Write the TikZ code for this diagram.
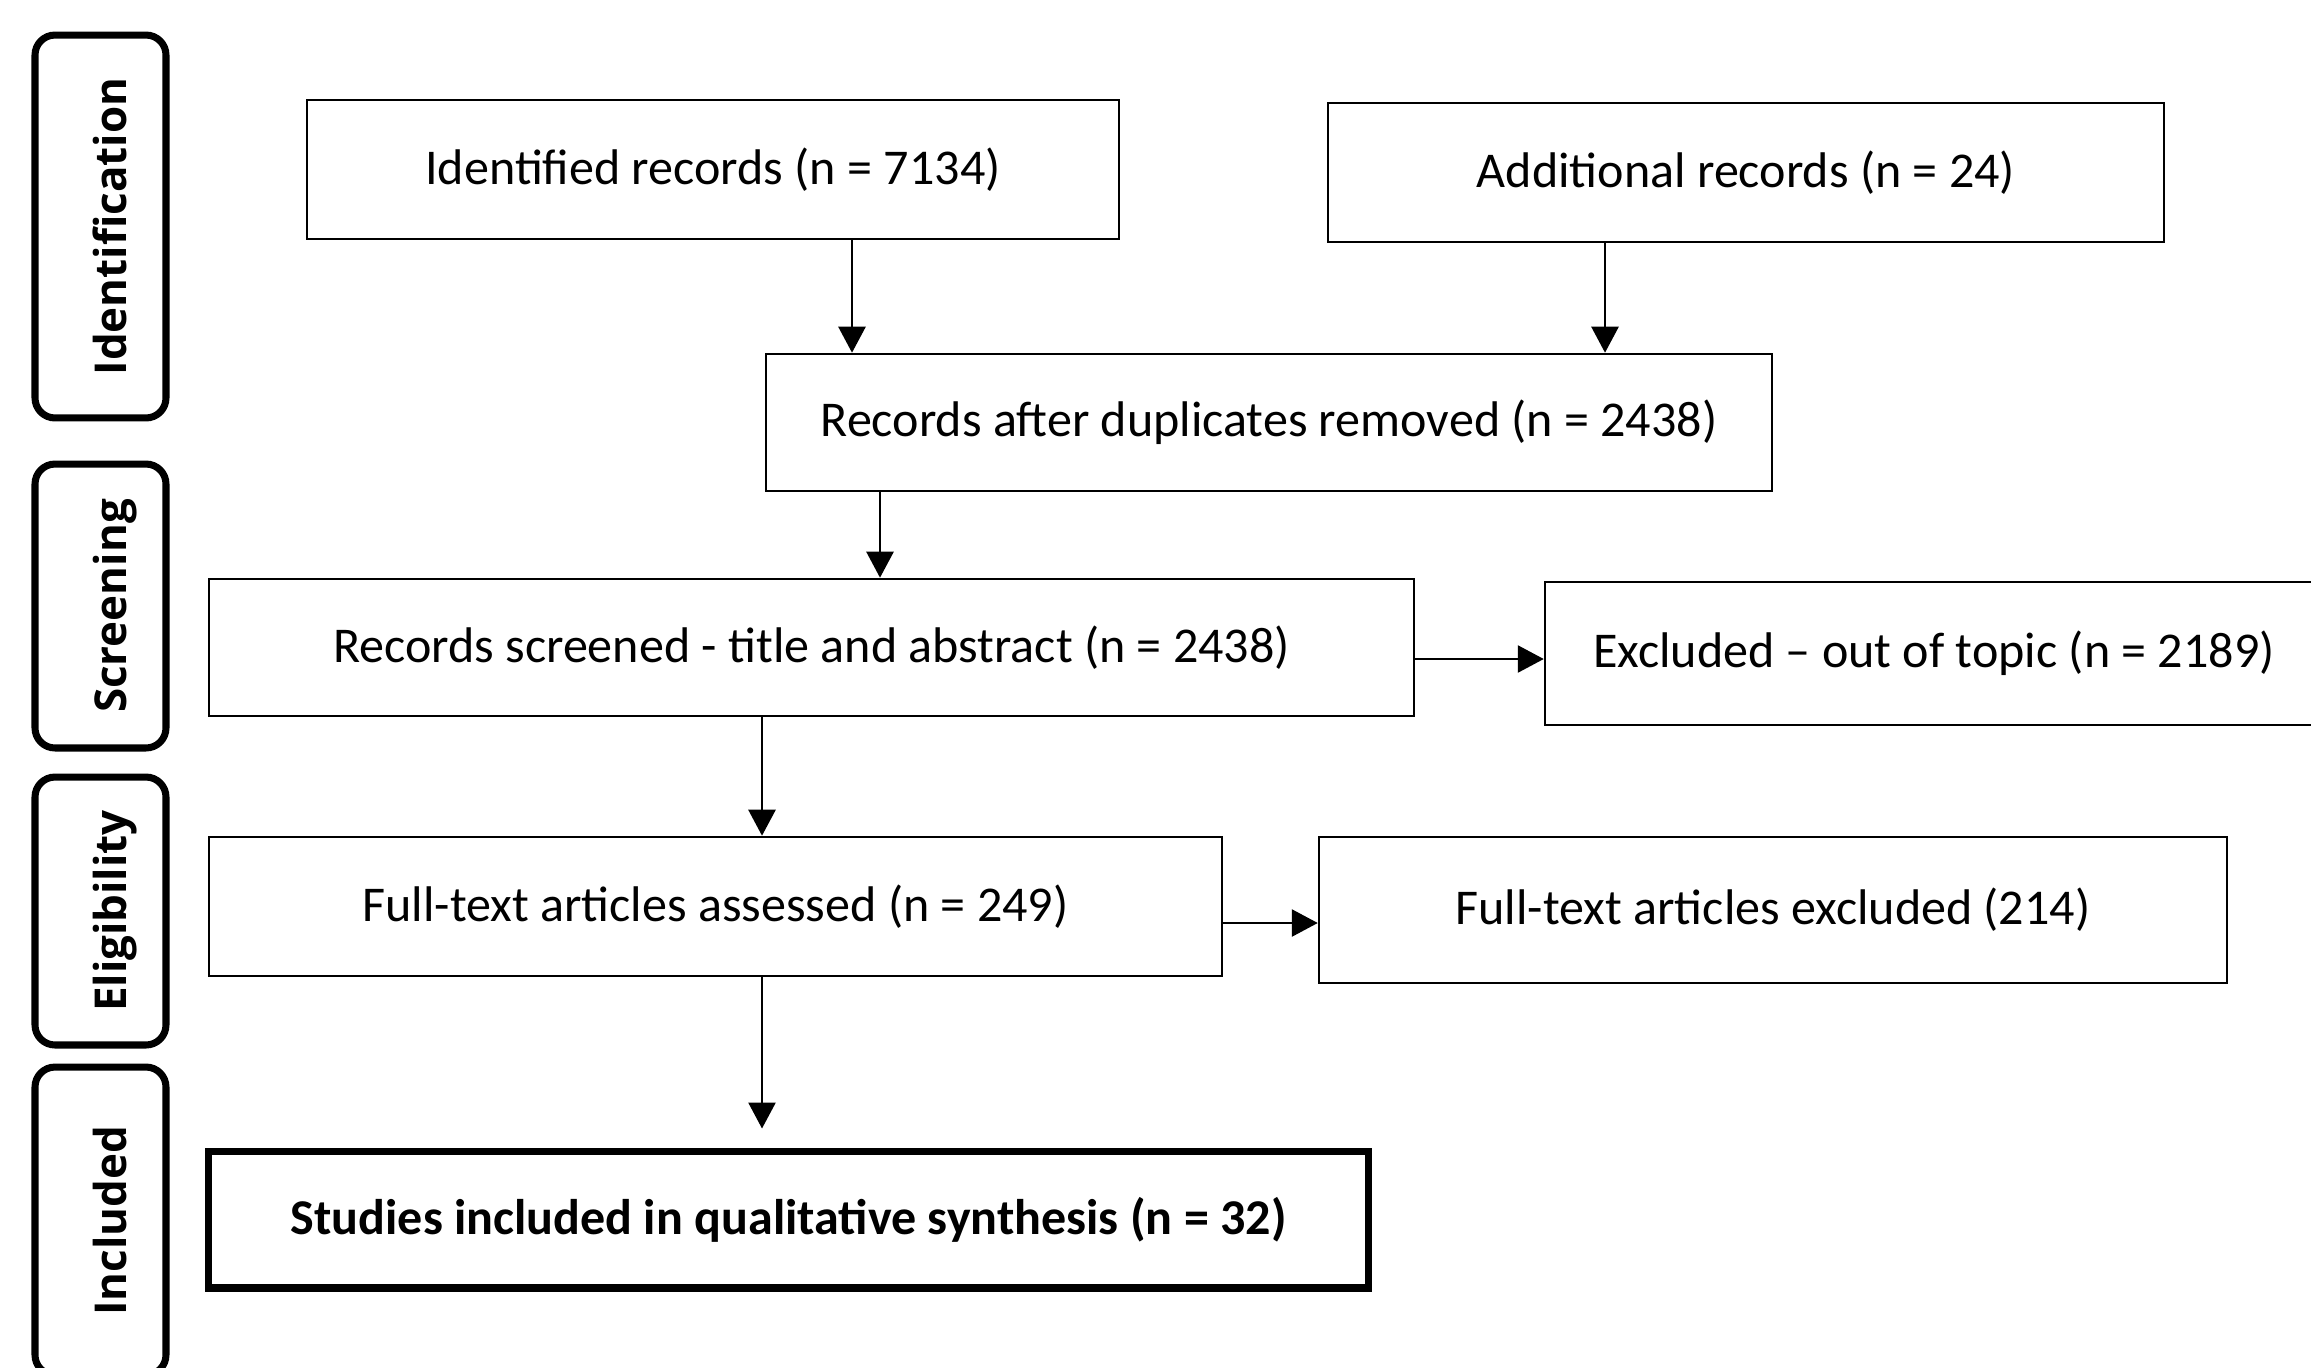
\documentclass[tikz,border=0pt]{standalone}
\usepackage{fontspec}
\setmainfont{Carlito}
\newfontfamily\stagefont{Open Sans}
\usetikzlibrary{positioning}
\usetikzlibrary{arrows.meta}
\newcommand\boxfont{\fontsize{28.5}{32}\selectfont}
\newcommand\stagesize{\fontsize{25}{30}\selectfont}
\tikzset{
    box/.style = {draw, line width=1.5pt, inner sep=0pt, font=\boxfont},
    stage/.style = {draw, line width=4pt, rounded corners=0.4cm, rotate=90, inner sep=0pt,
                    minimum height=2.62cm, text height=30pt, text depth=0pt,
                    font=\stagefont\stagesize\bfseries},
    arr/.style = {->, >={Triangle[width=0.54cm,length=0.52cm]}, line width=1.5pt},
}

\begin{document}
\begin{tikzpicture}[x=0.02cm, y=-0.02cm]
         \useasboundingbox (0,0) rectangle (2311,1367);
         \clip (0,0) rectangle (2311,1367);
         % --- Stages
         \node[stage, minimum width=7.66cm] (sident) at (100.5,226.5) {Identification};
         \node[stage, minimum width=5.68cm] (sscreen) at (100.5,606) {Screening};
         \node[stage, minimum width=5.36cm] (selig) at (100.5,911) {Eligibility};
         \node[stage, minimum width=6.16cm] (sincl) at (100.5,1221) {Included};
         % --- Identification
         \node[box, minimum width=16.24cm, minimum height=2.78cm] (ident) at (713,169.5) {Identified records (n = 7134)};
         \node[box, minimum width=16.72cm, minimum height=2.78cm] (addit) at (1746,172.5) {Additional records (n = 24)};
         \node[box, minimum width=20.12cm, minimum height=2.74cm] (dup) at (1269,422.5) {Records after duplicates removed (n = 2438)};
         % --- Screening
         \node[box, minimum width=24.10cm, minimum height=2.74cm] (screen) at (811.5,647.5) {Records screened - title and abstract (n = 2438)};
         \node[box, minimum width=15.56cm, minimum height=2.86cm] (extopic) at (1934,653.5) {Excluded -- out of topic (n = 2189)};
         % --- Eligibility
         \node[box, minimum width=20.26cm, minimum height=2.78cm] (full) at (715.5,906.5) {Full-text articles assessed (n = 249)};
         \node[box, minimum width=18.16cm, minimum height=2.92cm] (fullex) at (1773,910) {Full-text articles excluded (214)};
         % --- Included
         \node[box, line width=4pt, minimum width=23.22cm, minimum height=2.74cm, font=\boxfont\bfseries] (incl) at (788.5,1219.5) {Studies included in qualitative synthesis (n = 32)};
         % --- Arrows
         \coordinate (a1) at (852,0);
         \coordinate (a2) at (1605,0);
         \coordinate (a3) at (880,0);
         \coordinate (a4) at (762,0);
         \coordinate (h1) at (0,659);
         \coordinate (h2) at (0,923);
         \draw[arr] (ident.south -| a1) -- (dup.north -| a1);
         \draw[arr] (addit.south -| a2) -- (dup.north -| a2);
         \draw[arr] (dup.south -| a3) -- (screen.north -| a3);
         \draw[arr] (screen.east |- h1) -- (extopic.west |- h1);
         \draw[arr] (screen.south -| a4) -- (full.north -| a4);
         \draw[arr] (full.east |- h2) -- (fullex.west |- h2);
         \draw[arr, shorten >=0.38cm] (full.south -| a4) -- (incl.north -| a4);
       \end{tikzpicture}
\end{document}
